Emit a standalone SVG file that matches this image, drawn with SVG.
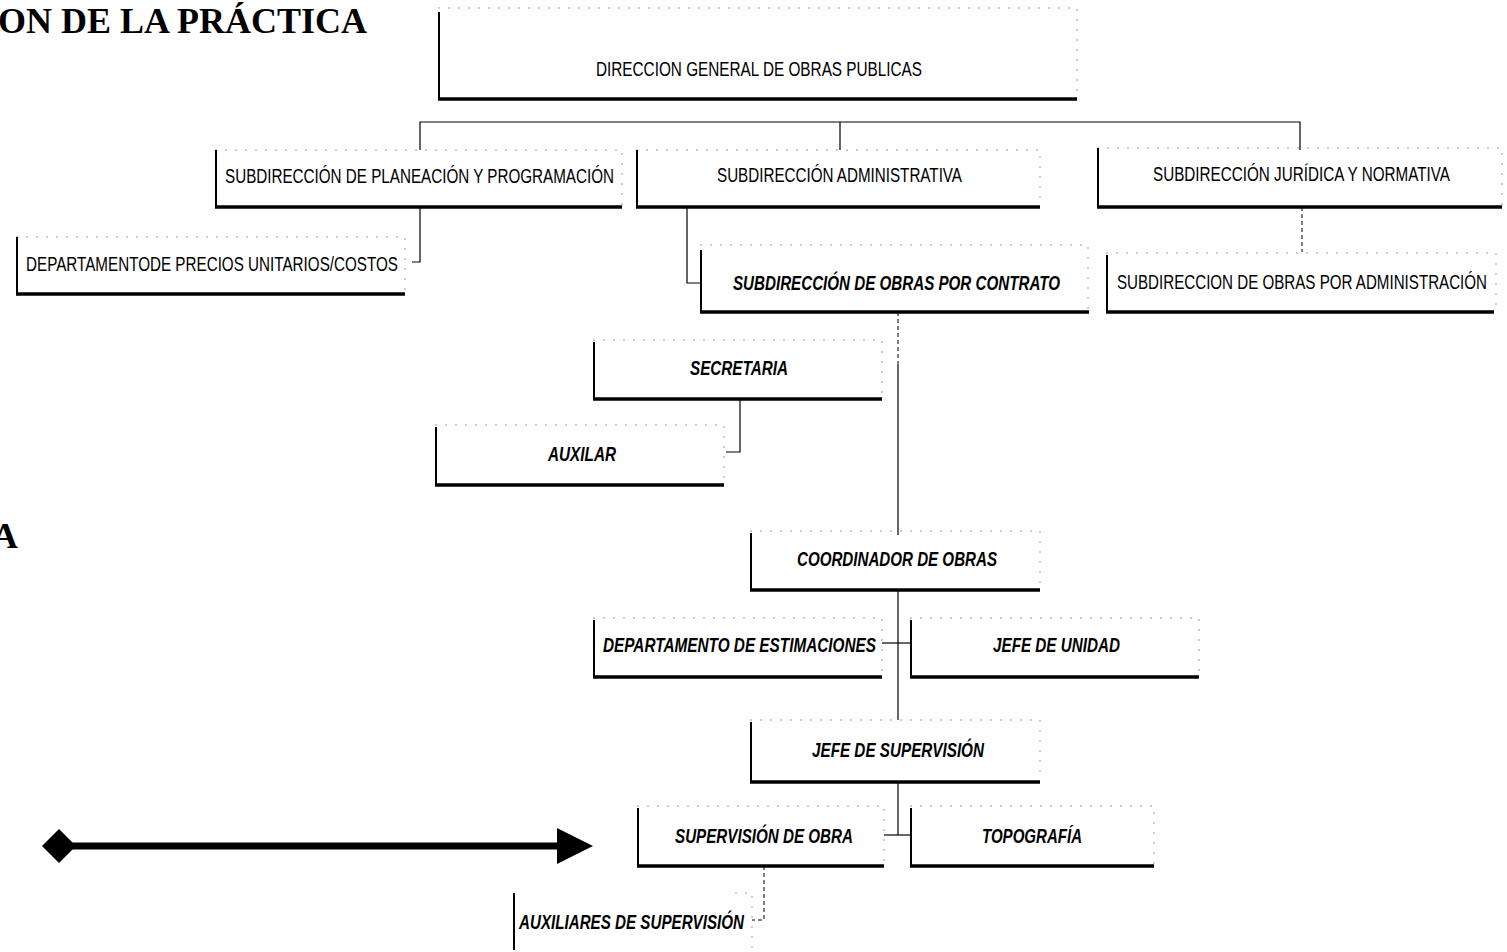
<svg xmlns="http://www.w3.org/2000/svg" width="1507" height="952" viewBox="0 0 1507 952">
<style>
.bg{fill:#fff}
.title{font-family:"Liberation Serif",serif;font-weight:bold;font-size:36px;fill:#000}
.lbl{font-family:"Liberation Sans",Arial,sans-serif;font-size:20px;fill:#000;text-anchor:middle}
.it{font-family:"Liberation Sans",Arial,sans-serif;font-size:21px;font-style:italic;font-weight:bold;fill:#000;text-anchor:middle}
.le{fill:none;stroke:#000;stroke-width:2}
.bo{fill:none;stroke:#000;stroke-width:3.5}
.faint{fill:none;stroke:#999;stroke-width:1;stroke-dasharray:2 8}
.con{fill:none;stroke:#000;stroke-width:1.2}
.dash{fill:none;stroke:#000;stroke-width:1;stroke-dasharray:4 3}
.big{fill:none;stroke:#000;stroke-width:7}
</style>
<defs>
<marker id="tri" markerUnits="userSpaceOnUse" viewBox="0 0 36 36" refX="0" refY="18" markerWidth="36" markerHeight="36" orient="auto"><path d="M0,0 L36,18 L0,36 z" fill="#000"/></marker>
<marker id="dia" markerUnits="userSpaceOnUse" viewBox="0 0 34 34" refX="17" refY="17" markerWidth="34" markerHeight="34" orient="auto"><path d="M0,17 L17,0 L34,17 L17,34 z" fill="#000"/></marker>
</defs>
<rect class="bg" x="0" y="0" width="1507" height="952"/>

<g id="titles">
<text class="title" x="-2" y="33">ON DE LA PRÁCTICA</text>
<text class="title" x="-8" y="548">A</text>
</g>

<g id="connectors">
<path class="con" d="M420,150 V122 H1300 V150"/>
<path class="con" d="M840,122 V150"/>
<path class="con" d="M420,207 V262 H412"/>
<path class="con" d="M687,207 V283 H700"/>
<path class="dash" d="M1302,207 V252"/>
<path class="dash" d="M898,312 V365"/>
<path class="con" d="M898,365 V535"/>
<path class="con" d="M740,399 V452 H726"/>
<path class="con" d="M898,590 V720"/>
<path class="con" d="M882,643 H910"/>
<path class="con" d="M898,782 V835"/>
<path class="con" d="M884,835 H910"/>
<path class="dash" d="M764,866 V920 H752"/>
</g>

<g id="arrow">
<line class="big" x1="59" y1="846" x2="557" y2="846" marker-start="url(#dia)" marker-end="url(#tri)"/>
</g>

<g id="n-direccion">
<path class="faint" d="M438,8 H1077 V97"/>
<path class="le" d="M439,12 V99"/>
<path class="bo" d="M438,99 H1077"/>
<text class="lbl" x="759" y="76" textLength="326" lengthAdjust="spacingAndGlyphs">DIRECCION GENERAL DE OBRAS PUBLICAS</text>
</g>

<g id="n-planeacion">
<path class="faint" d="M215,150 H622 V205"/>
<path class="le" d="M216,150 V207"/>
<path class="bo" d="M215,207 H622"/>
<text class="lbl" x="419.5" y="183" textLength="389" lengthAdjust="spacingAndGlyphs">SUBDIRECCIÓN DE PLANEACIÓN Y PROGRAMACIÓN</text>
</g>

<g id="n-administrativa">
<path class="faint" d="M636,150 H1040 V205"/>
<path class="le" d="M637,150 V207"/>
<path class="bo" d="M636,207 H1040"/>
<text class="lbl" x="839.5" y="182" textLength="245" lengthAdjust="spacingAndGlyphs">SUBDIRECCIÓN ADMINISTRATIVA</text>
</g>

<g id="n-juridica">
<path class="faint" d="M1097,148 H1502 V205"/>
<path class="le" d="M1098,148 V207"/>
<path class="bo" d="M1097,207 H1502"/>
<text class="lbl" x="1301.5" y="181" textLength="297" lengthAdjust="spacingAndGlyphs">SUBDIRECCIÓN JURÍDICA Y NORMATIVA</text>
</g>

<g id="n-precios">
<path class="faint" d="M16,237 H405 V292"/>
<path class="le" d="M17,237 V294"/>
<path class="bo" d="M16,294 H405"/>
<text class="lbl" x="212" y="271" textLength="372" lengthAdjust="spacingAndGlyphs">DEPARTAMENTODE PRECIOS UNITARIOS/COSTOS</text>
</g>

<g id="n-contrato">
<path class="faint" d="M700,245 H1088 V310"/>
<path class="le" d="M701,250 V312"/>
<path class="bo" d="M700,312 H1089"/>
<text class="it" x="896.5" y="290" textLength="327" lengthAdjust="spacingAndGlyphs">SUBDIRECCIÓN DE OBRAS POR CONTRATO</text>
</g>

<g id="n-obras-admin">
<path class="faint" d="M1106,253 H1496 V310"/>
<path class="le" d="M1107,255 V312"/>
<path class="bo" d="M1106,312 H1494"/>
<text class="lbl" x="1302" y="289" textLength="370" lengthAdjust="spacingAndGlyphs">SUBDIRECCION DE OBRAS POR ADMINISTRACIÓN</text>
</g>

<g id="n-secretaria">
<path class="faint" d="M593,340 H882 V397"/>
<path class="le" d="M594,342 V399"/>
<path class="bo" d="M593,399 H882"/>
<text class="it" x="739" y="375" textLength="98" lengthAdjust="spacingAndGlyphs">SECRETARIA</text>
</g>

<g id="n-auxilar">
<path class="faint" d="M435,425 H724 V483"/>
<path class="le" d="M436,427 V485"/>
<path class="bo" d="M435,485 H724"/>
<text class="it" x="582" y="461" textLength="68" lengthAdjust="spacingAndGlyphs">AUXILAR</text>
</g>

<g id="n-coordinador">
<path class="faint" d="M750,531 H1040 V588"/>
<path class="le" d="M751,533 V590"/>
<path class="bo" d="M750,590 H1040"/>
<text class="it" x="897" y="566" textLength="200" lengthAdjust="spacingAndGlyphs">COORDINADOR DE OBRAS</text>
</g>

<g id="n-estimaciones">
<path class="faint" d="M593,618 H882 V675"/>
<path class="le" d="M594,620 V677"/>
<path class="bo" d="M593,677 H882"/>
<text class="it" x="739.5" y="652" textLength="273" lengthAdjust="spacingAndGlyphs">DEPARTAMENTO DE ESTIMACIONES</text>
</g>

<g id="n-jefe-unidad">
<path class="faint" d="M910,618 H1199 V675"/>
<path class="le" d="M911,620 V677"/>
<path class="bo" d="M910,677 H1199"/>
<text class="it" x="1056.5" y="652" textLength="127" lengthAdjust="spacingAndGlyphs">JEFE DE UNIDAD</text>
</g>

<g id="n-jefe-supervision">
<path class="faint" d="M750,720 H1040 V780"/>
<path class="le" d="M751,722 V782"/>
<path class="bo" d="M750,782 H1040"/>
<text class="it" x="898" y="757" textLength="172" lengthAdjust="spacingAndGlyphs">JEFE DE SUPERVISIÓN</text>
</g>

<g id="n-supervision-obra">
<path class="faint" d="M637,806 H884 V864"/>
<path class="le" d="M638,808 V866"/>
<path class="bo" d="M637,866 H884"/>
<text class="it" x="764" y="843" textLength="178" lengthAdjust="spacingAndGlyphs">SUPERVISIÓN DE OBRA</text>
</g>

<g id="n-topografia">
<path class="faint" d="M910,806 H1154 V864"/>
<path class="le" d="M911,808 V866"/>
<path class="bo" d="M910,866 H1154"/>
<text class="it" x="1032" y="843" textLength="100" lengthAdjust="spacingAndGlyphs">TOPOGRAFÍA</text>
</g>

<g id="n-auxiliares">
<path class="faint" d="M735,893 H752 V948"/>
<path class="le" d="M514,893 V950"/>
<text class="it" x="631.5" y="929" textLength="225" lengthAdjust="spacingAndGlyphs">AUXILIARES DE SUPERVISIÓN</text>
</g>
</svg>
